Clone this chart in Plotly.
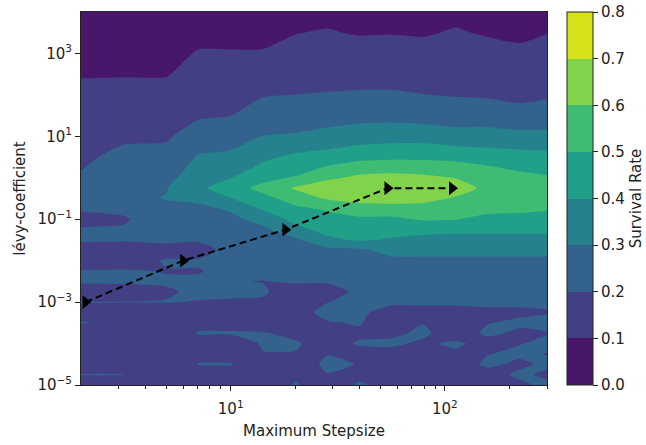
import plotly.graph_objects as go

# ---- data ----
step_sizes = [2, 3.16, 5.0, 7.08, 10, 14.1, 20, 28.2, 39.8, 56.2, 79.4, 112, 158, 224, 300]

levy_values = [1e4, 3.16e3, 1e3, 316, 100, 31.6, 10, 3.16, 1.78, 1.0, 0.562, 0.316,
               0.178, 0.1, 0.0562, 0.0316, 0.0178, 0.01, 5.62e-3, 3.16e-3, 1.78e-3,
               1e-3, 5.62e-4, 3.16e-4, 1.78e-4, 1e-4, 5.62e-5, 3.16e-5, 1.78e-5, 1e-5]

# survival rate, one row per levy value (top to bottom), one column per step size
survival = [
    [0.05, 0.05, 0.05, 0.05, 0.05, 0.05, 0.06, 0.08, 0.08, 0.085, 0.08, 0.085, 0.08, 0.08, 0.085],
    [0.06, 0.06, 0.06, 0.08, 0.08, 0.08, 0.098, 0.105, 0.095, 0.097, 0.095, 0.105, 0.095, 0.09, 0.099],
    [0.08, 0.08, 0.08, 0.105, 0.105, 0.105, 0.12, 0.13, 0.13, 0.13, 0.12, 0.125, 0.12, 0.11, 0.12],
    [0.095, 0.095, 0.095, 0.13, 0.14, 0.15, 0.16, 0.17, 0.17, 0.17, 0.16, 0.16, 0.155, 0.15, 0.155],
    [0.12, 0.13, 0.13, 0.16, 0.17, 0.195, 0.201, 0.205, 0.21, 0.21, 0.202, 0.195, 0.19, 0.18, 0.19],
    [0.15, 0.16, 0.16, 0.19, 0.199, 0.24, 0.25, 0.26, 0.27, 0.27, 0.26, 0.25, 0.25, 0.23, 0.24],
    [0.17, 0.19, 0.19, 0.24, 0.26, 0.302, 0.31, 0.33, 0.35, 0.36, 0.36, 0.34, 0.34, 0.33, 0.33],
    [0.19, 0.215, 0.225, 0.31, 0.32, 0.38, 0.42, 0.44, 0.47, 0.48, 0.48, 0.47, 0.45, 0.44, 0.43],
    [0.195, 0.24, 0.25, 0.33, 0.35, 0.42, 0.45, 0.51, 0.55, 0.56, 0.55, 0.54, 0.51, 0.48, 0.47],
    [0.21, 0.26, 0.27, 0.36, 0.398, 0.47, 0.51, 0.58, 0.62, 0.63, 0.62, 0.598, 0.56, 0.53, 0.51],
    [0.24, 0.28, 0.295, 0.38, 0.45, 0.53, 0.61, 0.66, 0.68, 0.69, 0.68, 0.64, 0.58, 0.57, 0.55],
    [0.26, 0.27, 0.305, 0.32, 0.395, 0.47, 0.54, 0.61, 0.63, 0.64, 0.63, 0.59, 0.57, 0.56, 0.54],
    [0.21, 0.22, 0.27, 0.28, 0.31, 0.41, 0.48, 0.51, 0.56, 0.56, 0.56, 0.55, 0.53, 0.52, 0.51],
    [0.17, 0.19, 0.25, 0.25, 0.28, 0.33, 0.43, 0.47, 0.48, 0.48, 0.51, 0.505, 0.47, 0.47, 0.46],
    [0.21, 0.21, 0.23, 0.23, 0.26, 0.28, 0.37, 0.43, 0.44, 0.44, 0.43, 0.42, 0.42, 0.42, 0.42],
    [0.21, 0.205, 0.21, 0.205, 0.23, 0.26, 0.28, 0.38, 0.41, 0.39, 0.37, 0.37, 0.37, 0.37, 0.37],
    [0.16, 0.17, 0.18, 0.18, 0.215, 0.24, 0.25, 0.27, 0.28, 0.33, 0.33, 0.33, 0.33, 0.33, 0.33],
    [0.16, 0.17, 0.205, 0.205, 0.215, 0.23, 0.23, 0.24, 0.25, 0.28, 0.28, 0.28, 0.28, 0.28, 0.28],
    [0.205, 0.205, 0.198, 0.198, 0.21, 0.21, 0.22, 0.22, 0.24, 0.25, 0.25, 0.25, 0.25, 0.25, 0.25],
    [0.21, 0.21, 0.205, 0.205, 0.202, 0.199, 0.205, 0.205, 0.22, 0.23, 0.23, 0.23, 0.23, 0.23, 0.23],
    [0.16, 0.17, 0.195, 0.208, 0.21, 0.205, 0.18, 0.18, 0.21, 0.22, 0.22, 0.22, 0.22, 0.22, 0.22],
    [0.203, 0.201, 0.202, 0.198, 0.195, 0.195, 0.17, 0.198, 0.22, 0.21, 0.205, 0.21, 0.21, 0.21, 0.205],
    [0.18, 0.18, 0.17, 0.17, 0.17, 0.17, 0.17, 0.22, 0.21, 0.18, 0.19, 0.18, 0.19, 0.19, 0.198],
    [0.203, 0.19, 0.16, 0.18, 0.18, 0.17, 0.18, 0.195, 0.205, 0.16, 0.198, 0.198, 0.198, 0.21, 0.21],
    [0.17, 0.16, 0.15, 0.205, 0.205, 0.203, 0.19, 0.17, 0.19, 0.19, 0.21, 0.17, 0.21, 0.19, 0.198],
    [0.15, 0.15, 0.15, 0.17, 0.17, 0.205, 0.205, 0.18, 0.205, 0.21, 0.19, 0.21, 0.18, 0.198, 0.21],
    [0.15, 0.15, 0.15, 0.18, 0.18, 0.198, 0.198, 0.198, 0.18, 0.18, 0.17, 0.19, 0.198, 0.21, 0.198],
    [0.16, 0.16, 0.15, 0.203, 0.203, 0.17, 0.17, 0.21, 0.198, 0.198, 0.19, 0.17, 0.21, 0.19, 0.21],
    [0.203, 0.202, 0.16, 0.17, 0.17, 0.16, 0.19, 0.198, 0.19, 0.17, 0.16, 0.198, 0.18, 0.21, 0.19],
    [0.16, 0.16, 0.15, 0.16, 0.16, 0.15, 0.205, 0.17, 0.205, 0.19, 0.18, 0.19, 0.198, 0.19, 0.21],
]

# optimisation path drawn on top
path_x = [2.1, 6, 18, 54, 108]
path_y = [1e-3, 1e-2, 0.056, 0.56, 0.56]

levels = [0.0, 0.1, 0.2, 0.3, 0.4, 0.5, 0.6, 0.7, 0.8]
band_colors = ["#481769", "#423f85", "#33628d", "#26818e",
               "#20a088", "#3fbc73", "#82d34c", "#d5e21a"]

x_ticks = [10, 100]
x_ticktext = ["10<sup>1</sup>", "10<sup>2</sup>"]
x_minor = [3, 4, 5, 6, 7, 8, 9, 20, 30, 40, 50, 60, 70, 80, 90, 200, 300]
y_ticks = [1e-5, 1e-3, 1e-1, 1e1, 1e3]
y_ticktext = ["10<sup>\u22125</sup>", "10<sup>\u22123</sup>", "10<sup>\u22121</sup>",
              "10<sup>1</sup>", "10<sup>3</sup>"]

# ---- build figure ----
n = len(band_colors)
colorscale = []
for i, c in enumerate(band_colors):
    colorscale.append([i / n, c])
    colorscale.append([(i + 1) / n, c])

FONT = "DejaVu Sans"
FS = 15
INK = "#222"
L, R, T, B = 81, 99, 12, 60
W, H = 646, 445
plot_w = W - L - R

fig = go.Figure()
fig.add_trace(go.Contour(
    x=step_sizes, y=levy_values[::-1], z=survival[::-1],
    zmin=levels[0], zmax=levels[-1], autocontour=False,
    contours=dict(start=levels[0], end=levels[-1], size=0.1,
                  coloring="fill", showlines=False),
    line=dict(width=0, smoothing=0.6),
    colorscale=colorscale,
    colorbar=dict(
        x=(567 - L) / plot_w, xanchor="left", xpad=0,
        y=0.5, yanchor="middle", len=1, lenmode="fraction", ypad=0,
        thickness=26, thicknessmode="pixels",
        outlinewidth=1, outlinecolor=INK,
        tickmode="array", tickvals=levels,
        ticktext=[f"{v:.1f}" for v in levels],
        ticks="outside", ticklen=5, tickwidth=1, tickcolor=INK,
        tickfont=dict(family=FONT, size=FS, color=INK),
        title=dict(text="Survival Rate", side="right",
                   font=dict(family=FONT, size=FS, color=INK)),
    ),
    hoverinfo="skip",
))
fig.add_trace(go.Scatter(
    x=path_x, y=path_y, mode="lines+markers",
    line=dict(color="black", width=2, dash="7px,4px"),
    marker=dict(symbol="triangle-right", size=12, color="black"),
    cliponaxis=False, showlegend=False,
))

axis_common = dict(
    showgrid=False, zeroline=False,
    showline=True, mirror=True, linecolor=INK, linewidth=1,
    ticks="outside", ticklen=5, tickwidth=1, tickcolor=INK,
    tickfont=dict(family=FONT, size=FS, color=INK),
)

fig.update_layout(
    width=W, height=H,
    margin=dict(l=L, r=R, t=T, b=B, pad=0, autoexpand=False),
    paper_bgcolor="white", plot_bgcolor="white",
    font=dict(family=FONT, size=FS, color=INK),
    xaxis=dict(
        type="log", range=[0.30103, 2.4771],
        tickmode="array", tickvals=x_ticks, ticktext=x_ticktext,
        ticklabelstandoff=5,
        minor=dict(tickmode="array", tickvals=x_minor, ticks="outside",
                   ticklen=3, tickwidth=1, tickcolor=INK),
        title=dict(text="Maximum Stepsize", standoff=8,
                   font=dict(family=FONT, size=FS, color=INK)),
        **axis_common,
    ),
    yaxis=dict(
        type="log", range=[-5, 4],
        tickmode="array", tickvals=y_ticks, ticktext=y_ticktext,
        title=dict(text="lévy-coefficient", standoff=8,
                   font=dict(family=FONT, size=FS, color=INK)),
        **axis_common,
    ),
)

fig.write_html("out.html")
